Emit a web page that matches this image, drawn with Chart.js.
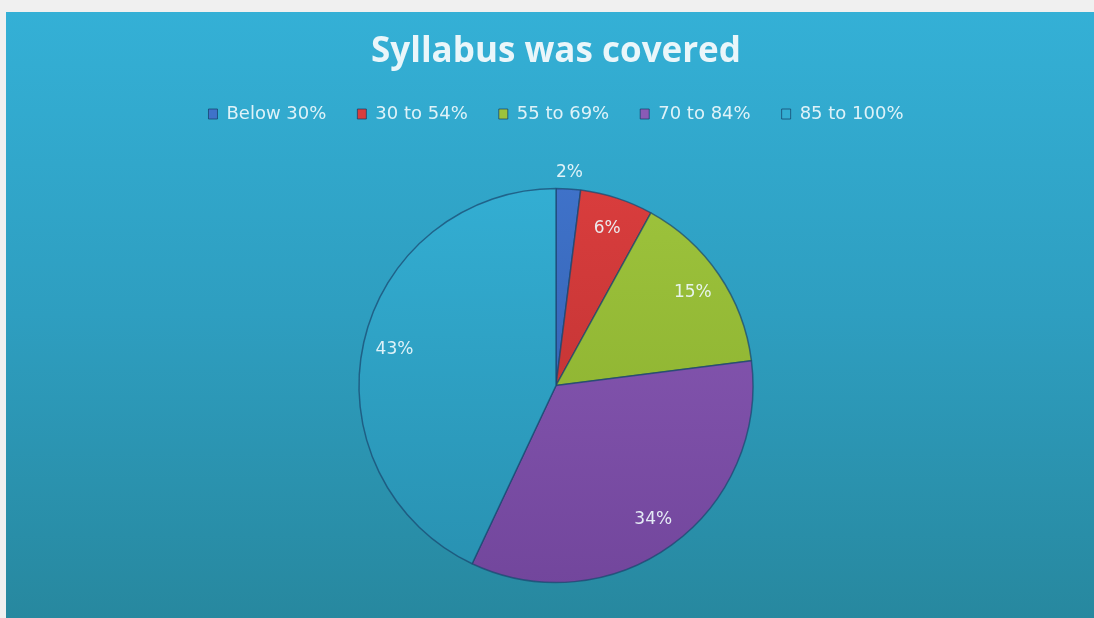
<!DOCTYPE html>
<html>
<head>
<meta charset="utf-8">
<script src="https://cdn.jsdelivr.net/npm/chart.js@4/dist/chart.umd.min.js"></script>
<style>
  body { margin: 0; background: #f0f0f0; }
  #box {
    position: absolute; left: 6px; top: 12px; width: 1088px; height: 606px;
    background: linear-gradient(#34b0d6, #2e9ec0 50%, #27889f);
  }
</style>
</head>
<body>
<div id="box"><canvas id="pie"></canvas></div>
<script>
// données du graphique
const categories = ["Below 30%", "30 to 54%", "55 to 69%", "70 to 84%", "85 to 100%"];
const percents = [2, 6, 15, 34, 43];
const sliceColors = ["#3f72c9", "#d93d3d", "#9dc33c", "#8a5bb6", "#33aed3"];
const sliceDark = ["#2f5aa6", "#b42f2f", "#86ab2c", "#72469c", "#2890b0"];

const txt = "rgba(238,249,252,0.92)";

// étiquettes en % sur chaque part
const pctLabels = {
  id: "pctLabels",
  afterDatasetsDraw(chart) {
    const ctx = chart.ctx;
    const meta = chart.getDatasetMeta(0);
    ctx.save();
    ctx.font = "17px 'DejaVu Sans'";
    ctx.fillStyle = txt;
    ctx.textAlign = "center";
    ctx.textBaseline = "middle";
    meta.data.forEach((arc, i) => {
      const p = arc.getProps(["x", "y", "startAngle", "endAngle", "outerRadius"], true);
      const mid = (p.startAngle + p.endAngle) / 2;
      // petite part : étiquette à l'extérieur
      const r = percents[i] < 3 ? p.outerRadius + 16 : p.outerRadius * 0.84;
      ctx.fillText(percents[i] + "%", p.x + Math.cos(mid) * r, p.y + Math.sin(mid) * r);
    });
    ctx.restore();
  }
};

// un peu plus d'espace sous la légende
const legendGap = {
  id: "legendGap",
  beforeInit(chart) {
    const fit = chart.legend.fit;
    chart.legend.fit = function () {
      fit.bind(chart.legend)();
      this.height += 20;
    };
  }
};

new Chart(document.getElementById("pie"), {
  type: "pie",
  data: {
    labels: categories,
    datasets: [{
      data: percents,
      backgroundColor: (c) => {
        const area = c.chart.chartArea;
        if (!area) return sliceColors[c.dataIndex];
        const g = c.chart.ctx.createLinearGradient(0, 175, 0, 575);
        g.addColorStop(0, sliceColors[c.dataIndex]);
        g.addColorStop(1, sliceDark[c.dataIndex]);
        return g;
      },
      borderColor: "rgba(25,70,110,0.7)",
      borderWidth: 1.5,
      radius: 197
    }]
  },
  options: {
    responsive: true,
    maintainAspectRatio: false,
    animation: false,
    layout: { padding: { left: 12, right: 0, bottom: 0 } },
    plugins: {
      title: {
        display: true,
        text: "Syllabus was covered",
        color: "#eaf6fa",
        font: { family: "'Open Sans'", size: 35, weight: "bold" },
        padding: { top: 19, bottom: 1 }
      },
      legend: {
        position: "top",
        labels: {
          color: txt,
          font: { family: "'DejaVu Sans'", size: 18 },
          boxWidth: 9,
          boxHeight: 10,
          padding: 31,
          generateLabels: (chart) => categories.map((name, i) => ({
            text: name,
            fillStyle: sliceColors[i],
            strokeStyle: "rgba(20,60,100,0.7)",
            lineWidth: 1,
            fontColor: txt,
            index: i
          }))
        }
      },
      tooltip: { enabled: false }
    }
  },
  plugins: [pctLabels, legendGap]
});
</script>
</body>
</html>
